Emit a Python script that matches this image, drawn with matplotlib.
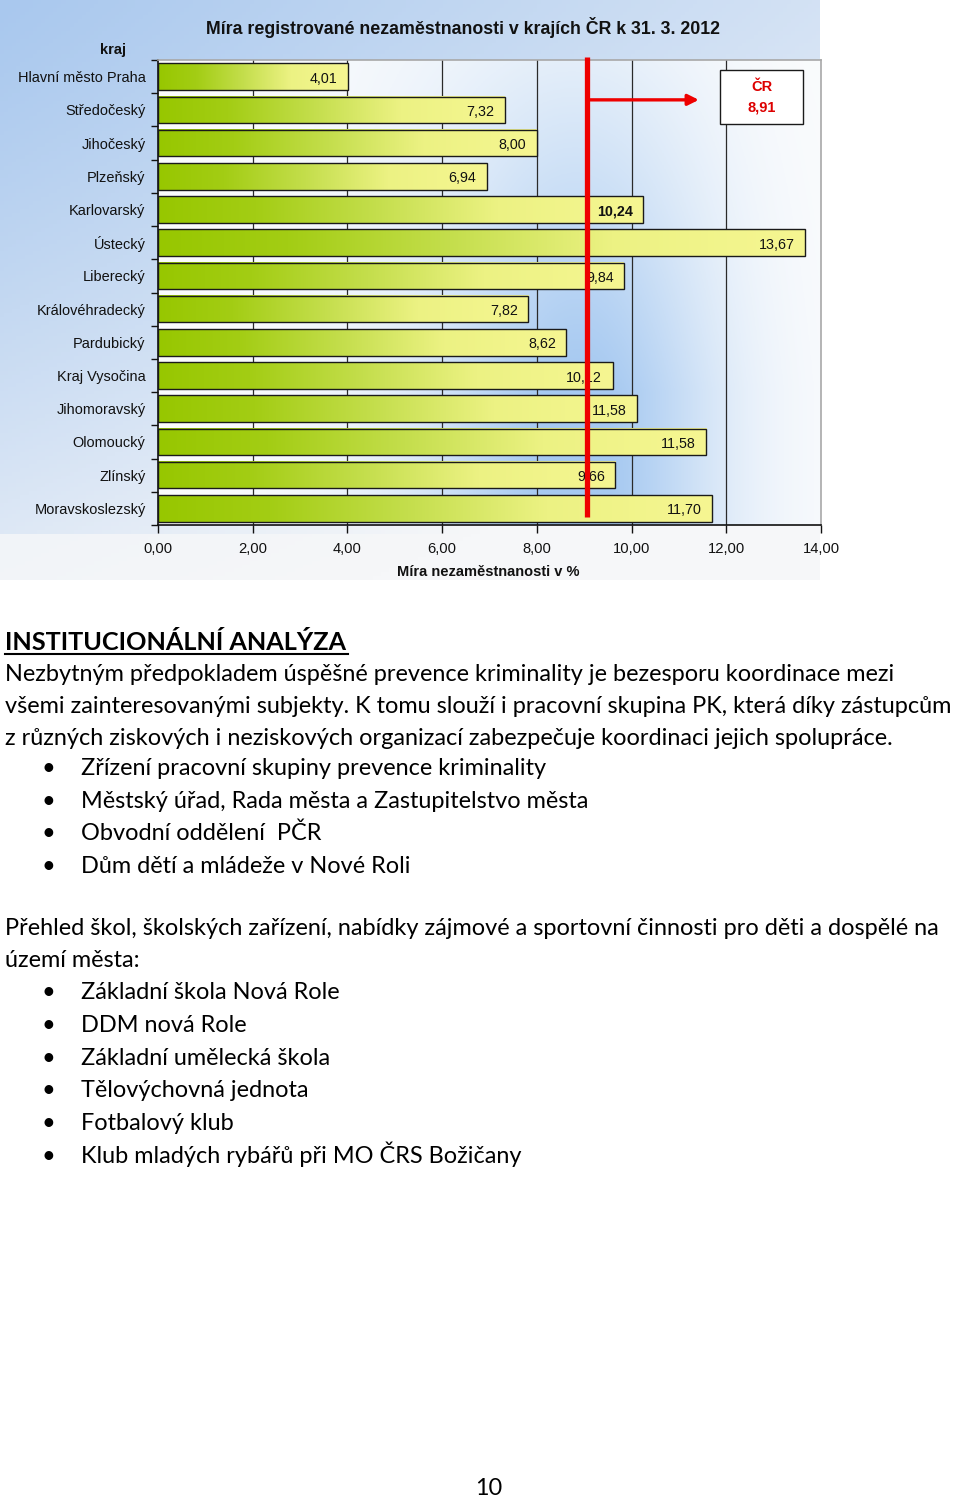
import numpy as np
import matplotlib
matplotlib.use('Agg')
import matplotlib.pyplot as plt
from matplotlib.patches import Rectangle
from matplotlib.lines import Line2D
from matplotlib.colors import LinearSegmentedColormap, to_rgb

# ---------------- data ----------------
regions = ["Hlavní město Praha", "Středočeský", "Jihočeský", "Plzeňský", "Karlovarský",
           "Ústecký", "Liberecký", "Královéhradecký", "Pardubický", "Kraj Vysočina",
           "Jihomoravský", "Olomoucký", "Zlínský", "Moravskoslezský"]
bar_values = [4.01, 7.32, 8.00, 6.94, 10.24, 13.67, 9.84, 7.82, 8.62, 9.60,
              10.12, 11.58, 9.66, 11.70]
value_labels = ["4,01", "7,32", "8,00", "6,94", "10,24", "13,67", "9,84", "7,82",
                "8,62", "10,12", "11,58", "11,58", "9,66", "11,70"]
bold_region = "Karlovarský"
cr_label = "ČR"
cr_value_label = "8,91"
cr_line_x = 9.05
x_ticks = [0, 2, 4, 6, 8, 10, 12, 14]
x_tick_labels = ["0,00", "2,00", "4,00", "6,00", "8,00", "10,00", "12,00", "14,00"]
chart_title = "Míra registrované nezaměstnanosti v krajích ČR k 31. 3. 2012"
y_title = "kraj"
x_title = "Míra nezaměstnanosti v %"

heading = "INSTITUCIONÁLNÍ ANALÝZA"
para1 = ["Nezbytným předpokladem úspěšné prevence kriminality je bezesporu koordinace mezi",
         "všemi zainteresovanými subjekty. K tomu slouží i pracovní skupina PK, která díky zástupcům",
         "z různých ziskových i neziskových organizací zabezpečuje koordinaci jejich spolupráce."]
bullets1 = ["Zřízení pracovní skupiny prevence kriminality",
            "Městský úřad, Rada města a Zastupitelstvo města",
            "Obvodní oddělení  PČR",
            "Dům dětí a mládeže v Nové Roli"]
para2 = ["Přehled škol, školských zařízení, nabídky zájmové a sportovní činnosti pro děti a dospělé na",
         "území města:"]
bullets2 = ["Základní škola Nová Role", "DDM nová Role", "Základní umělecká škola",
            "Tělovýchovná jednota", "Fotbalový klub", "Klub mladých rybářů při MO ČRS Božičany"]
page_number = "10"

# ---------------- figure ----------------
W, H = 960, 1497
fig = plt.figure(figsize=(W / 100, H / 100), dpi=100)
fig.patch.set_facecolor('white')
renderer = fig.canvas.get_renderer()

def fx(x):
    return x / W

def fy(y):
    return 1 - y / H

chart_font = ['Liberation Sans', 'DejaVu Sans']
body_font = ['Lato', 'DejaVu Sans']

def fit_size(s, target_px, family, weight='normal', base=16.0):
    tt = fig.text(0, 0, s, fontsize=base, family=family, fontweight=weight)
    w = tt.get_window_extent(renderer).width
    tt.remove()
    return base * target_px / w

title_size = fit_size(chart_title, 511, chart_font, 'bold')
cat_size = fit_size(regions[0], 128, chart_font)

# chart outer background
bg = fig.add_axes([0, fy(580), fx(820), 580 / H])
bg.set_axis_off()
gx = np.linspace(0, 1, 200)[None, :]
gy = np.linspace(0, 1, 150)[:, None]
t = np.clip(1.0 - (0.55 * gx + 0.75 * gy ** 1.2), 0, 1)
t = np.where(gy > 0.92, t * 0.2, t)
blue = np.array(to_rgb('#a9c8ee'))
white = np.array(to_rgb('#f6f7f9'))
img = white[None, None, :] * (1 - t[..., None]) + blue[None, None, :] * t[..., None]
bg.imshow(img, extent=[0, 1, 0, 1], aspect='auto', origin='upper')
bg.set_xlim(0, 1)
bg.set_ylim(0, 1)

# main axes
ax = fig.add_axes([fx(158), fy(525), (821 - 158) / W, (525 - 60) / H])
n = len(regions)

# plot area background
px = np.linspace(0, 14, 300)[None, :]
py = np.linspace(0, 1, 200)[:, None]
inten = np.exp(-((px - 9.0) / 2.9) ** 2) * (0.25 + 0.75 * np.clip(py * 1.4, 0, 1))
inten = inten + 0.18 * np.exp(-((px - 5.5) / 3.0) ** 2) * (0.4 + 0.6 * py)
inten = np.clip(inten, 0, 1)
pblue = np.array(to_rgb('#a6c9f1'))
pwhite = np.array(to_rgb('#fbfcfd'))
pimg = pwhite[None, None, :] * (1 - inten[..., None]) + pblue[None, None, :] * inten[..., None]
ax.imshow(pimg, extent=[0, 14, n - 0.5, -0.5], aspect='auto', origin='upper', zorder=0)

# gridlines
for xv in x_ticks[1:-1]:
    ax.axvline(xv, color='#2a2a2a', lw=0.9, zorder=1)

# bars with gradient
bar_cmap = LinearSegmentedColormap.from_list(
    'bar', [(0.0, '#97c700'), (0.2, '#a3cd14'), (0.45, '#c4de4c'),
            (0.7, '#ecf283'), (1.0, '#f6f692')])
grad = np.linspace(0, 1, 256)[None, :]
bh = 0.8
for i, (v, lab) in enumerate(zip(bar_values, value_labels)):
    ax.imshow(grad, extent=[0, v, i + bh / 2, i - bh / 2], aspect='auto',
              cmap=bar_cmap, zorder=2, interpolation='bilinear')
    ax.add_patch(Rectangle((0, i - bh / 2), v, bh, fill=False, ec='#1a1a1a',
                           lw=1.0, zorder=3))
    ax.annotate(lab, xy=(v, i), xytext=(-7.5, -1.5), textcoords='offset points',
                ha='right', va='center', fontsize=10.3, family=chart_font,
                fontweight='bold' if regions[i] == bold_region else 'normal',
                color='#111111', zorder=4)

ax.set_xlim(0, 14)
ax.set_ylim(n - 0.5, -0.5)

# ticks
ax.set_xticks(x_ticks)
ax.set_xticklabels(x_tick_labels, fontsize=10.6, family=chart_font, color='#111111')
ax.tick_params(axis='x', length=6, width=1, direction='out', pad=6, color='#111111')
ax.set_yticks(range(n))
ax.set_yticklabels(regions, fontsize=cat_size, family=chart_font, color='#111111')
ax.set_yticks(np.arange(-0.5, n, 1.0), minor=True)
ax.tick_params(axis='y', which='major', length=0, pad=9)
ax.tick_params(axis='y', which='minor', length=5, width=1, direction='out', color='#111111')

for s in ['left', 'bottom']:
    ax.spines[s].set_color('#111111')
    ax.spines[s].set_linewidth(1.2)
for s in ['top', 'right']:
    ax.spines[s].set_color('#a8a8a8')
    ax.spines[s].set_linewidth(1.2)

# ČR line, arrow and box
ax.plot([cr_line_x, cr_line_x], [-0.58, 13.26], color='#ee0000', lw=3.8,
        solid_capstyle='butt', zorder=6, clip_on=False)
ax.annotate('', xy=(11.42, 0.70), xytext=(cr_line_x, 0.70),
            arrowprops=dict(arrowstyle='-|>', color='#ee0000', lw=2.4,
                            mutation_scale=16, shrinkA=0, shrinkB=0), zorder=6)
ax.add_patch(Rectangle((11.87, -0.2), 1.75, 1.63, fc='white', ec='#1a1a1a',
                       lw=1.0, zorder=5))
ax.text(12.745, 0.31, cr_label, ha='center', va='center', fontsize=10.5,
        fontweight='bold', color='#dd0000', family=chart_font, zorder=7)
ax.text(12.745, 0.92, cr_value_label, ha='center', va='center', fontsize=10.5,
        fontweight='bold', color='#dd0000', family=chart_font, zorder=7)

# chart titles
fig.text(fx(463), fy(28), chart_title, ha='center', va='center', fontsize=title_size,
         fontweight='bold', family=chart_font, color='#111111')
fig.text(fx(113), fy(50), y_title, ha='center', va='center', fontsize=10.5,
         fontweight='bold', family=chart_font, color='#111111')
fig.text(fx(488), fy(572), x_title, ha='center', va='center', fontsize=10.5,
         fontweight='bold', family=chart_font, color='#111111')

# ---------------- body text ----------------
body_size = fit_size(para1[1], 952, body_font)
head_size = fit_size(heading, 343, body_font, 'bold')

fig.text(fx(5), fy(650), heading, ha='left', va='baseline', fontsize=head_size,
         fontweight='bold', family=body_font, color='black')
fig.add_artist(Line2D([fx(5), fx(348)], [fy(654), fy(654)], color='black', lw=1.5))

for k, line in enumerate(para1):
    fig.text(fx(5), fy(681 + 32 * k), line, ha='left', va='baseline',
             fontsize=body_size, family=body_font, color='black')
for k, line in enumerate(bullets1):
    yb = 775 + 32.6 * k
    fig.text(fx(48), fy(yb), '•', ha='center', va='baseline', fontsize=body_size,
             family=body_font, color='black')
    fig.text(fx(81), fy(yb), line, ha='left', va='baseline', fontsize=body_size,
             family=body_font, color='black')
for k, line in enumerate(para2):
    fig.text(fx(5), fy(935 + 32 * k), line, ha='left', va='baseline',
             fontsize=body_size, family=body_font, color='black')
for k, line in enumerate(bullets2):
    yb = 999 + 32.8 * k
    fig.text(fx(48), fy(yb), '•', ha='center', va='baseline', fontsize=body_size,
             family=body_font, color='black')
    fig.text(fx(81), fy(yb), line, ha='left', va='baseline', fontsize=body_size,
             family=body_font, color='black')

fig.text(fx(489), fy(1495), page_number, ha='center', va='baseline',
         fontsize=body_size, family=body_font, color='black')

fig.savefig('out.png', dpi=100)
